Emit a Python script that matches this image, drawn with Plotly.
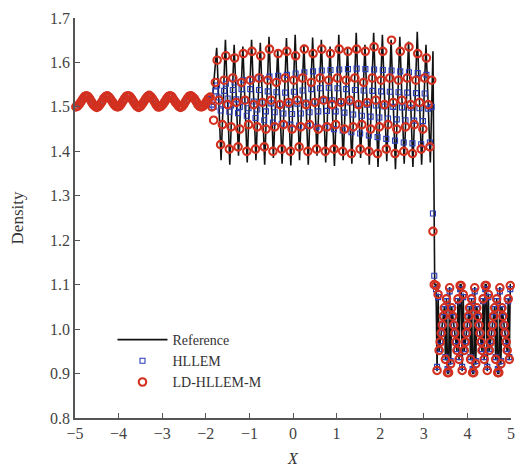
import numpy as np
import plotly.graph_objects as go

# ---------------------------------------------------------------------------
# Density profiles along X (three stretches: smooth left state, oscillatory
# post-shock band, shock and entropy waves ahead of the shock)
# ---------------------------------------------------------------------------

# Reference solution --------------------------------------------------------
REF_LEFT_START, REF_LEFT_STEP = -5.0, 0.12
ref_left = [1.500, 1.512, 1.525, 1.512, 1.500, 1.512, 1.525, 1.512,
            1.500, 1.512, 1.525, 1.512, 1.500, 1.512, 1.525, 1.512,
            1.500, 1.512, 1.525, 1.512, 1.500, 1.512, 1.525, 1.512,
            1.500, 1.512, 1.525]

REF_MID_START, REF_MID_STEP = -1.85, 0.10
ref_mid = [1.515,
           1.633, 1.380, 1.651, 1.370, 1.640, 1.390, 1.636, 1.375,
           1.651, 1.380, 1.644, 1.370, 1.658, 1.385, 1.630, 1.372,
           1.655, 1.368, 1.662, 1.380, 1.640, 1.370, 1.656, 1.390,
           1.651, 1.375, 1.636, 1.367, 1.662, 1.380, 1.633, 1.372,
           1.667, 1.385, 1.640, 1.370, 1.667, 1.365, 1.662, 1.378,
           1.651, 1.360, 1.658, 1.372, 1.647, 1.365, 1.669, 1.370,
           1.640, 1.375]

ref_shock_x = [3.21, 3.25]
ref_shock = [1.625, 1.100]

RIGHT_START, RIGHT_STEP = 3.28, 0.024
ref_right = [1.100, 0.905, 1.080, 0.950, 0.970, 0.990, 1.010, 1.030, 1.050, 0.930, 1.070, 0.900,
             0.900, 1.095, 0.920, 1.050, 1.030, 1.010, 0.990, 0.970, 0.950, 1.070, 0.930, 1.100,
             1.100, 0.905, 1.080, 0.950, 0.970, 0.990, 1.010, 1.030, 1.050, 0.930, 1.070, 0.900,
             0.900, 1.095, 0.920, 1.050, 1.030, 1.010, 0.990, 0.970, 0.950, 1.070, 0.930, 1.100,
             1.100, 0.905, 1.080, 0.950, 0.970, 0.990, 1.010, 1.030, 1.050, 0.930, 1.070, 0.900,
             0.900, 1.095, 0.920, 1.050, 1.030, 1.010, 0.990, 0.970, 0.950, 1.070, 0.930, 1.100,
             1.100]

# HLLEM ---------------------------------------------------------------------
HL_LEFT_START, HL_LEFT_STEP = -4.98, 0.08
hllem_left = [1.501, 1.506, 1.518, 1.524, 1.518, 1.506,
              1.500, 1.506, 1.518, 1.524, 1.518, 1.506,
              1.501, 1.506, 1.518, 1.524, 1.518, 1.506,
              1.500, 1.506, 1.518, 1.524, 1.518, 1.506,
              1.501, 1.506, 1.518, 1.524, 1.518, 1.506,
              1.500, 1.506, 1.518, 1.524, 1.518, 1.506,
              1.501, 1.506, 1.518]

MID_START, MID_STEP = -1.86, 0.04
hllem_mid = [1.505, 1.500,
             1.535, 1.548, 1.521, 1.492, 1.506,
             1.536, 1.552, 1.519, 1.489, 1.503,
             1.538, 1.555, 1.517, 1.486, 1.500,
             1.540, 1.560, 1.515, 1.480, 1.497,
             1.540, 1.562, 1.512, 1.475, 1.494,
             1.538, 1.565, 1.510, 1.470, 1.490,
             1.535, 1.568, 1.508, 1.465, 1.488,
             1.533, 1.570, 1.506, 1.462, 1.485,
             1.532, 1.572, 1.505, 1.460, 1.484,
             1.534, 1.575, 1.507, 1.458, 1.485,
             1.537, 1.578, 1.510, 1.457, 1.488,
             1.540, 1.580, 1.512, 1.455, 1.490,
             1.542, 1.582, 1.514, 1.453, 1.491,
             1.543, 1.583, 1.515, 1.450, 1.490,
             1.542, 1.584, 1.513, 1.447, 1.487,
             1.540, 1.585, 1.510, 1.443, 1.483,
             1.538, 1.586, 1.507, 1.440, 1.480,
             1.537, 1.585, 1.505, 1.436, 1.478,
             1.536, 1.584, 1.503, 1.432, 1.476,
             1.535, 1.583, 1.501, 1.428, 1.474,
             1.534, 1.582, 1.500, 1.424, 1.472,
             1.533, 1.580, 1.499, 1.420, 1.470,
             1.532, 1.578, 1.498, 1.418, 1.469,
             1.531, 1.576, 1.497, 1.416, 1.468,
             1.530, 1.572, 1.496, 1.420]

SHOCK_X = [3.18, 3.21, 3.24]
hllem_shock = [1.500, 1.260, 1.120]

hllem_right = [1.090, 0.915, 1.072, 0.955, 0.973, 0.991, 1.009, 1.027, 1.045, 0.937, 1.063, 0.910,
               0.910, 1.085, 0.928, 1.045, 1.027, 1.009, 0.991, 0.973, 0.955, 1.063, 0.937, 1.090,
               1.090, 0.915, 1.072, 0.955, 0.973, 0.991, 1.009, 1.027, 1.045, 0.937, 1.063, 0.910,
               0.910, 1.085, 0.928, 1.045, 1.027, 1.009, 0.991, 0.973, 0.955, 1.063, 0.937, 1.090,
               1.090, 0.915, 1.072, 0.955, 0.973, 0.991, 1.009, 1.027, 1.045, 0.937, 1.063, 0.910,
               0.910, 1.085, 0.928, 1.045, 1.027, 1.009, 0.991, 0.973, 0.955, 1.063, 0.937, 1.090,
               1.090]

# LD-HLLEM-M ----------------------------------------------------------------
LD_LEFT_START, LD_LEFT_STEP = -4.98, 0.04
ld_left = [1.500, 1.502, 1.506, 1.512, 1.518, 1.523, 1.525, 1.523, 1.518, 1.511, 1.505, 1.501,
           1.499, 1.501, 1.506, 1.512, 1.519, 1.523, 1.525, 1.522, 1.517, 1.511, 1.505, 1.501,
           1.500, 1.502, 1.507, 1.513, 1.519, 1.524, 1.525, 1.523, 1.518, 1.512, 1.506, 1.501,
           1.499, 1.501, 1.506, 1.512, 1.518, 1.523, 1.526, 1.523, 1.518, 1.512, 1.505, 1.500,
           1.500, 1.502, 1.506, 1.512, 1.518, 1.523, 1.525, 1.523, 1.517, 1.511, 1.506, 1.501,
           1.499, 1.501, 1.506, 1.513, 1.519, 1.524, 1.525, 1.522, 1.518, 1.512, 1.505, 1.501,
           1.500, 1.502, 1.507, 1.513, 1.519, 1.522]

ld_mid = [1.500, 1.470,
          1.555, 1.605, 1.515, 1.415, 1.460,
          1.560, 1.615, 1.505, 1.405, 1.455,
          1.565, 1.610, 1.510, 1.410, 1.450,
          1.555, 1.620, 1.515, 1.400, 1.460,
          1.560, 1.625, 1.505, 1.405, 1.455,
          1.565, 1.615, 1.510, 1.410, 1.450,
          1.560, 1.630, 1.515, 1.400, 1.455,
          1.555, 1.620, 1.505, 1.405, 1.460,
          1.565, 1.625, 1.510, 1.400, 1.450,
          1.560, 1.615, 1.515, 1.410, 1.455,
          1.565, 1.630, 1.505, 1.400, 1.460,
          1.555, 1.620, 1.510, 1.405, 1.450,
          1.565, 1.630, 1.515, 1.400, 1.455,
          1.560, 1.620, 1.505, 1.405, 1.460,
          1.565, 1.630, 1.510, 1.400, 1.450,
          1.560, 1.625, 1.515, 1.395, 1.455,
          1.565, 1.630, 1.505, 1.405, 1.460,
          1.555, 1.625, 1.510, 1.400, 1.450,
          1.565, 1.635, 1.515, 1.395, 1.455,
          1.560, 1.625, 1.505, 1.405, 1.460,
          1.565, 1.650, 1.510, 1.395, 1.450,
          1.560, 1.625, 1.515, 1.400, 1.455,
          1.565, 1.635, 1.505, 1.395, 1.460,
          1.560, 1.620, 1.510, 1.405, 1.450,
          1.565, 1.610, 1.505, 1.410]

ld_shock = [1.560, 1.220, 1.100]

ld_right = [1.098, 0.907, 1.078, 0.952, 0.971, 0.991, 1.009, 1.029, 1.048, 0.932, 1.068, 0.902,
            0.902, 1.093, 0.922, 1.048, 1.029, 1.009, 0.991, 0.971, 0.952, 1.068, 0.932, 1.098,
            1.098, 0.907, 1.078, 0.952, 0.971, 0.991, 1.009, 1.029, 1.048, 0.932, 1.068, 0.902,
            0.902, 1.093, 0.922, 1.048, 1.029, 1.009, 0.991, 0.971, 0.952, 1.068, 0.932, 1.098,
            1.098, 0.907, 1.078, 0.952, 0.971, 0.991, 1.009, 1.029, 1.048, 0.932, 1.068, 0.902,
            0.902, 1.093, 0.922, 1.048, 1.029, 1.009, 0.991, 0.971, 0.952, 1.068, 0.932, 1.098,
            1.098]

X_TICKS = [-5, -4, -3, -2, -1, 0, 1, 2, 3, 4, 5]
Y_TICKS = [0.8, 0.9, 1.0, 1.1, 1.2, 1.3, 1.4, 1.5, 1.6, 1.7]


def mesh(start, step, values):
    """Uniform cell centres for a stretch of samples."""
    return start + step * np.arange(len(values))


ref_x = np.concatenate([mesh(REF_LEFT_START, REF_LEFT_STEP, ref_left),
                        mesh(REF_MID_START, REF_MID_STEP, ref_mid),
                        ref_shock_x,
                        mesh(RIGHT_START, RIGHT_STEP, ref_right)])
ref_y = np.concatenate([ref_left, ref_mid, ref_shock, ref_right])

hl_x = np.concatenate([mesh(HL_LEFT_START, HL_LEFT_STEP, hllem_left),
                       mesh(MID_START, MID_STEP, hllem_mid),
                       SHOCK_X,
                       mesh(RIGHT_START, RIGHT_STEP, hllem_right)])
hl_y = np.concatenate([hllem_left, hllem_mid, hllem_shock, hllem_right])

ld_x = np.concatenate([mesh(LD_LEFT_START, LD_LEFT_STEP, ld_left),
                       mesh(MID_START, MID_STEP, ld_mid),
                       SHOCK_X,
                       mesh(RIGHT_START, RIGHT_STEP, ld_right)])
ld_y = np.concatenate([ld_left, ld_mid, ld_shock, ld_right])

SERIF = "Liberation Serif, Times New Roman, serif"

fig = go.Figure()
fig.add_trace(go.Scatter(
    x=ref_x, y=ref_y, mode="lines", name="Reference",
    line=dict(color="#111111", width=1.6),
))
fig.add_trace(go.Scatter(
    x=hl_x, y=hl_y, mode="markers", name="HLLEM", cliponaxis=False,
    marker=dict(symbol="square-open", size=5, color="#2a3cb8",
                line=dict(width=1.1, color="#2a3cb8")),
))
fig.add_trace(go.Scatter(
    x=ld_x, y=ld_y, mode="markers", name="LD-HLLEM-M", cliponaxis=False,
    marker=dict(symbol="circle-open", size=7.5, color="#d3301f",
                line=dict(width=2.1, color="#d3301f")),
))

axis_common = dict(
    showline=True, linecolor="#555555", linewidth=1.5, mirror=False,
    ticks="inside", ticklen=5, tickwidth=1.2, tickcolor="#555555",
    showgrid=False, zeroline=False,
    tickfont=dict(family=SERIF, size=16, color="#444444"),
)

fig.update_layout(
    width=523, height=473,
    margin=dict(l=75, r=8, t=18, b=50),
    paper_bgcolor="white", plot_bgcolor="white",
    font=dict(family=SERIF, size=14, color="#333333"),
    showlegend=True,
    legend=dict(x=0.086, y=0.235, xanchor="left", yanchor="top",
                bgcolor="rgba(0,0,0,0)", borderwidth=0,
                font=dict(family=SERIF, size=14, color="#333333"),
                tracegroupgap=0, itemwidth=50),
)
fig.update_xaxes(range=[-5, 5], tickvals=X_TICKS,
                 title=dict(text="<i>X</i>", standoff=12,
                            font=dict(family=SERIF, size=16, color="#333333")),
                 **axis_common)
fig.update_yaxes(range=[0.8, 1.7], tickvals=Y_TICKS, tickformat=".1f",
                 title=dict(text="Density", standoff=22,
                            font=dict(family=SERIF, size=17, color="#333333")),
                 **axis_common)

fig.write_html("out.html")
